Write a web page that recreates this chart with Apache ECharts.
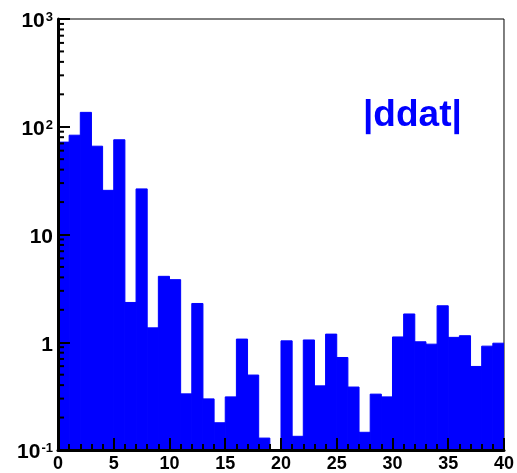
<!DOCTYPE html>
<html>
<head>
<meta charset="utf-8">
<script src="https://cdn.jsdelivr.net/npm/echarts@6/dist/echarts.min.js"></script>
<style>
html,body{margin:0;padding:0;background:#fff;}
#c{width:517px;height:473px;}
</style>
</head>
<body>
<div id="c"></div>
<script>
// histogram bin edges: bin i spans [binStart[i], binStart[i]+binWidth]
var binStart = [0,1,2,3,4,5,6,7,8,9,10,11,12,13,14,15,16,17,18,19,20,21,22,23,24,25,26,27,28,29,30,31,32,33,34,35,36,37,38,39];
var binWidth = 1;
var counts = [72,83.5,136,66,25.7,75.7,2.34,26.5,1.36,4.09,3.81,0.332,2.29,0.298,0.179,0.311,1.07,0.496,0.129,0,
              1.03,0.134,1.05,0.394,1.19,0.722,0.384,0.146,0.33,0.311,1.12,1.83,1.01,0.96,2.18,1.11,1.15,0.596,0.92,0.98];
var xTicks = [0,5,10,15,20,25,30,35,40];
var yMinorTicks = [0.2,0.3,0.4,0.5,0.6,0.7,0.8,0.9,2,3,4,5,6,7,8,9,20,30,40,50,60,70,80,90,200,300,400,500,600,700,800,900];
var yLabels = {'1000':'{b|10}{s|3}','100':'{b|10}{s|2}','10':'{b|10}','1':'{b|1}','0.1':'{b|10}{s|-1}'};
var histTitle = '|ddat|';

var chart = echarts.init(document.getElementById('c'), null, {renderer:'canvas'});
var FONT = '"Liberation Sans", Arial, Helvetica, sans-serif';

var barData = [];
for (var i = 0; i < counts.length; i++) {
  if (counts[i] > 0) barData.push([binStart[i], binStart[i] + binWidth, counts[i]]);
}
var minorData = yMinorTicks.map(function(v){ return [0, v]; });

chart.setOption({
  animation: false,
  backgroundColor: '#ffffff',
  grid: {left: 58, top: 19, right: 8, bottom: 22, show: true, borderColor: '#000', borderWidth: 1, backgroundColor: 'transparent'},
  xAxis: {
    type: 'value', min: 0, max: 40, interval: 5, z: 10,
    axisLine: {show: true, onZero: false, lineStyle: {color: '#000', width: 3}},
    axisTick: {show: true, inside: true, length: 12, lineStyle: {color: '#000', width: 2}},
    minorTick: {show: true, splitNumber: 5, length: 6, lineStyle: {color: '#000', width: 2}},
    splitLine: {show: false},
    axisLabel: {color: '#000', fontFamily: FONT, fontWeight: 'bold', fontSize: 18, margin: 5, showMaxLabel: true, showMinLabel: true}
  },
  yAxis: {
    type: 'log', logBase: 10, min: 0.1, max: 1000, z: 10,
    axisLine: {show: true, onZero: false, lineStyle: {color: '#000', width: 3}},
    axisTick: {show: true, inside: true, length: 12, lineStyle: {color: '#000', width: 2}},
    splitLine: {show: false},
    axisLabel: {
      margin: 5,
      padding: [5, 0, 0, 0],
      formatter: function(v){
        var key = String(+v.toPrecision(3));
        return yLabels[key] !== undefined ? yLabels[key] : '';
      },
      rich: {
        b: {color: '#000', fontFamily: FONT, fontWeight: 'bold', fontSize: 21, verticalAlign: 'bottom'},
        s: {color: '#000', fontFamily: FONT, fontWeight: 'bold', fontSize: 13, verticalAlign: 'top', padding: [0,0,6,1]}
      }
    }
  },
  graphic: [{
    type: 'text', left: 363, top: 97, z: 20,
    style: {text: histTitle, fill: '#0000ff', font: 'bold 37px ' + FONT}
  }],
  series: [{
    type: 'custom', z: 2, clip: true,
    data: barData,
    encode: {x: [0, 1], y: 2},
    renderItem: function(params, api){
      var p0 = api.coord([api.value(0), api.value(2)]);
      var p1 = api.coord([api.value(1), 0.1]);
      return {type: 'rect', shape: {x: p0[0], y: p0[1], width: p1[0]-p0[0], height: p1[1]-p0[1]},
              style: {fill: '#0000ff', stroke: '#0000ff', lineWidth: 1}};
    }
  }, {
    type: 'custom', z: 12, clip: false,
    data: minorData,
    encode: {x: 0, y: 1},
    renderItem: function(params, api){
      var p = api.coord([api.value(0), api.value(1)]);
      return {type: 'line', shape: {x1: p[0], y1: p[1], x2: p[0] + 6, y2: p[1]},
              style: {stroke: '#000', lineWidth: 2}};
    }
  }]
});
</script>
</body>
</html>
